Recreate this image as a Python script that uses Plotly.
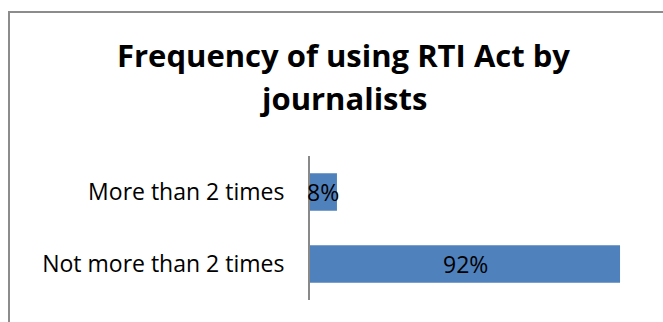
import plotly.graph_objects as go

categories = ["Not more than 2 times", "More than 2 times"]
values = [0.92, 0.08]
value_labels = ["92%", "8%"]
title_lines = ["Frequency of using RTI Act by", "journalists"]

W, H = 663, 322
L, R, T, B = 310, 16, 156, 22
pw, ph = W - L - R, H - T - B

FONT = "Open Sans, sans-serif"

fig = go.Figure(go.Bar(
    y=categories, x=values, orientation="h",
    marker=dict(color="#4F81BD", line=dict(width=0)),
    width=0.52, hoverinfo="x+y",
))

def px_x(x):
    return (x - L) / pw

def px_y(y):
    return (H - B - y) / ph

annotations = []
for cat, v, lab in zip(categories, values, value_labels):
    annotations.append(dict(x=v / 2, y=cat, xref="x", yref="y", text=lab,
                            showarrow=False, xanchor="center", yanchor="middle",
                            font=dict(family=FONT, size=23, color="#000000")))
for i, (line, ypix) in enumerate(zip(title_lines, [55, 98])):
    annotations.append(dict(x=px_x(343), y=px_y(ypix), xref="paper", yref="paper",
                            text="<b>%s</b>" % line, showarrow=False,
                            xanchor="center", yanchor="middle",
                            font=dict(family=FONT, size=31, color="#000000")))

fig.update_layout(
    width=W, height=H,
    margin=dict(l=L, r=R, t=T, b=B),
    paper_bgcolor="white", plot_bgcolor="white",
    showlegend=False,
    xaxis=dict(range=[0, 1.0], visible=False, fixedrange=True),
    yaxis=dict(showgrid=False, showline=True, linecolor="#898989", linewidth=2,
               ticks="", ticklabelstandoff=19,
               tickfont=dict(family=FONT, size=23, color="#000000"),
               zeroline=False, fixedrange=True),
    annotations=annotations,
    shapes=[dict(type="rect", xref="paper", yref="paper",
                 x0=px_x(9), x1=px_x(680), y0=px_y(12), y1=px_y(340),
                 line=dict(color="#8C8C8C", width=2), fillcolor="rgba(0,0,0,0)", layer="below")],
)

fig.write_html("out.html")
